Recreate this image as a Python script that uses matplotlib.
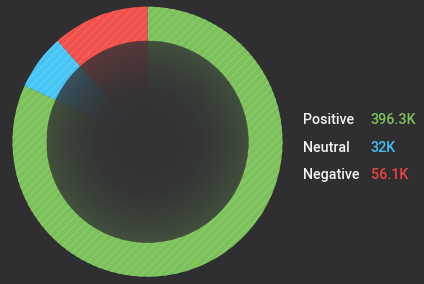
import numpy as np
import matplotlib
matplotlib.use("Agg")
import matplotlib.pyplot as plt
from matplotlib.patches import Circle

categories = ["Positive", "Neutral", "Negative"]
values = [396.3, 32.0, 56.1]
value_labels = ["396.3K", "32K", "56.1K"]

colors = ["#7cc05b", "#47c4f4", "#f04f4b"]
stripe_colors = ["#86c866", "#55cbf7", "#f45c58"]
text_colors = ["#80c25c", "#43c0f2", "#ee4444"]
bg = "#2f2f31"

plt.rcParams["hatch.linewidth"] = 1.6

fig = plt.figure(figsize=(4.24, 2.84), dpi=100, facecolor=bg)
ax = fig.add_axes([0, 0, 1, 1])
ax.set_facecolor(bg)

cx, cy = 147.5, 142.3
R_out, R_in = 135, 101

wedges, _ = ax.pie(values, colors=colors, startangle=90, counterclock=False,
                   center=(cx, cy), radius=R_out,
                   wedgeprops=dict(width=R_out - R_in, linewidth=0))
for w, sc in zip(wedges, stripe_colors):
    w.set_hatch("////")
    w.set_edgecolor(sc)
    w.set_linewidth(0)

inner, _ = ax.pie(values, colors=colors, startangle=90, counterclock=False,
                  center=(cx, cy), radius=R_in,
                  wedgeprops=dict(linewidth=0))

# radial dark overlay on inner disc
n = 400
yy, xx = np.mgrid[-1:1:n*1j, -1:1:n*1j]
rr = np.sqrt(xx**2 + yy**2)
t = np.clip((rr - 0.35) / 0.65, 0, 1)
alpha = 1 - 0.2 * t**1.6
img = np.zeros((n, n, 4))
bgc = np.array(matplotlib.colors.to_rgb("#333335"))
img[..., :3] = bgc
img[..., 3] = alpha
im = ax.imshow(img, extent=(cx - R_in, cx + R_in, cy - R_in, cy + R_in),
               origin="lower", interpolation="bilinear", zorder=5)
clip = Circle((cx, cy), R_in, transform=ax.transData)
im.set_clip_path(clip)

ax.set_xlim(0, 424)
ax.set_ylim(0, 284)
ax.set_aspect("auto")
ax.axis("off")

ys = [284 - 124, 284 - 151.5, 284 - 179]
for cat, lab, tc, y in zip(categories, value_labels, text_colors, ys):
    ax.text(302.5, y, cat, color="#f2f2f2", fontsize=10.3, fontweight="medium",
            family="Roboto", va="baseline", ha="left", zorder=10)
    ax.text(370.5, y, lab, color=tc, fontsize=10.3, fontweight="medium",
            family="Roboto", va="baseline", ha="left", zorder=10)

fig.savefig("out.png", dpi=100, facecolor=bg)
